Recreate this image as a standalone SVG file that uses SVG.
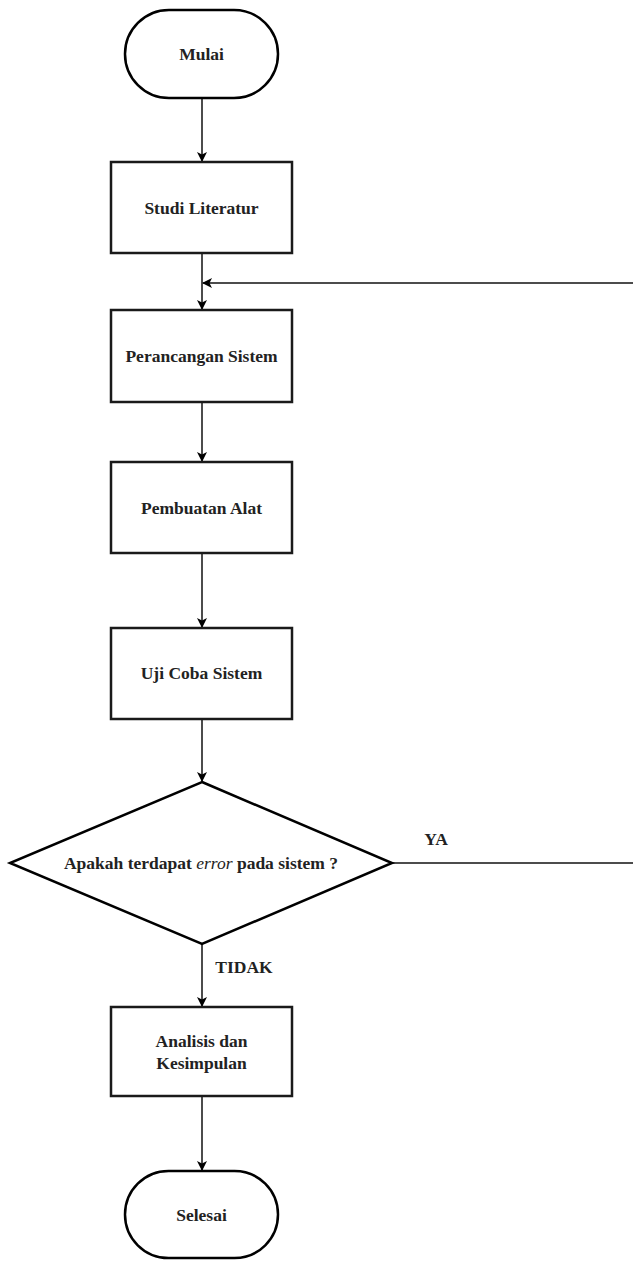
<svg xmlns="http://www.w3.org/2000/svg" width="633" height="1261" viewBox="0 0 633 1261">
<defs>
<marker id="arr" viewBox="0 0 10 10" refX="9" refY="5" markerWidth="10" markerHeight="10" markerUnits="userSpaceOnUse" orient="auto">
<path d="M0,0 L10,5 L0,10 L2.5,5 Z" fill="#000"/>
</marker>
<style>
.box{fill:#fff;stroke:#1a1a1a;stroke-width:2.5}
.term{fill:#fff;stroke:#000;stroke-width:2.5}
.lbl{font-family:'Liberation Serif','Times New Roman',serif;font-weight:bold;font-size:17.5px;fill:#222;text-anchor:middle;dominant-baseline:central}
.edge{fill:none;stroke:#111;stroke-width:1.5}
</style>
</defs>
<rect width="633" height="1261" fill="#fff"/>
<g id="connectors">
<path class="edge" d="M202,98 L202,161" marker-end="url(#arr)"/>
<path class="edge" d="M202,253 L202,309" marker-end="url(#arr)"/>
<path class="edge" d="M633,283 L203,283" marker-end="url(#arr)"/>
<path class="edge" d="M202,402 L202,461" marker-end="url(#arr)"/>
<path class="edge" d="M202,553 L202,627" marker-end="url(#arr)"/>
<path class="edge" d="M202,719 L202,781" marker-end="url(#arr)"/>
<path class="edge" d="M392,863 L633,863"/>
<path class="edge" d="M202,944 L202,1006" marker-end="url(#arr)"/>
<path class="edge" d="M202,1096 L202,1170" marker-end="url(#arr)"/>
</g>
<g id="mulai">
<rect class="term" x="125" y="10" width="153" height="88" rx="44" ry="44"/>
<text class="lbl" x="201.5" y="54">Mulai</text>
</g>
<g id="studi">
<rect class="box" x="111" y="162" width="181" height="91"/>
<text class="lbl" x="201.5" y="208">Studi Literatur</text>
</g>
<g id="perancangan">
<rect class="box" x="111" y="310" width="181" height="92"/>
<text class="lbl" x="201.5" y="356">Perancangan Sistem</text>
</g>
<g id="pembuatan">
<rect class="box" x="111" y="462" width="181" height="91"/>
<text class="lbl" x="201.5" y="508">Pembuatan Alat</text>
</g>
<g id="uji">
<rect class="box" x="111" y="628" width="181" height="91"/>
<text class="lbl" x="201.5" y="673">Uji Coba Sistem</text>
</g>
<g id="decision">
<polygon class="term" points="202,782 392,863 202,944 10,863"/>
<text class="lbl" x="201" y="863">Apakah terdapat <tspan font-style="italic" font-weight="normal">error</tspan> pada sistem ?</text>
</g>
<g id="labels">
<text class="lbl" x="436" y="839">YA</text>
<text class="lbl" x="244" y="967">TIDAK</text>
</g>
<g id="analisis">
<rect class="box" x="111" y="1007" width="181" height="89"/>
<text class="lbl" x="201.5" y="1041">Analisis dan</text>
<text class="lbl" x="201.5" y="1063">Kesimpulan</text>
</g>
<g id="selesai">
<rect class="term" x="125" y="1171" width="153" height="87" rx="43.5" ry="43.5"/>
<text class="lbl" x="201.5" y="1215">Selesai</text>
</g>
</svg>
